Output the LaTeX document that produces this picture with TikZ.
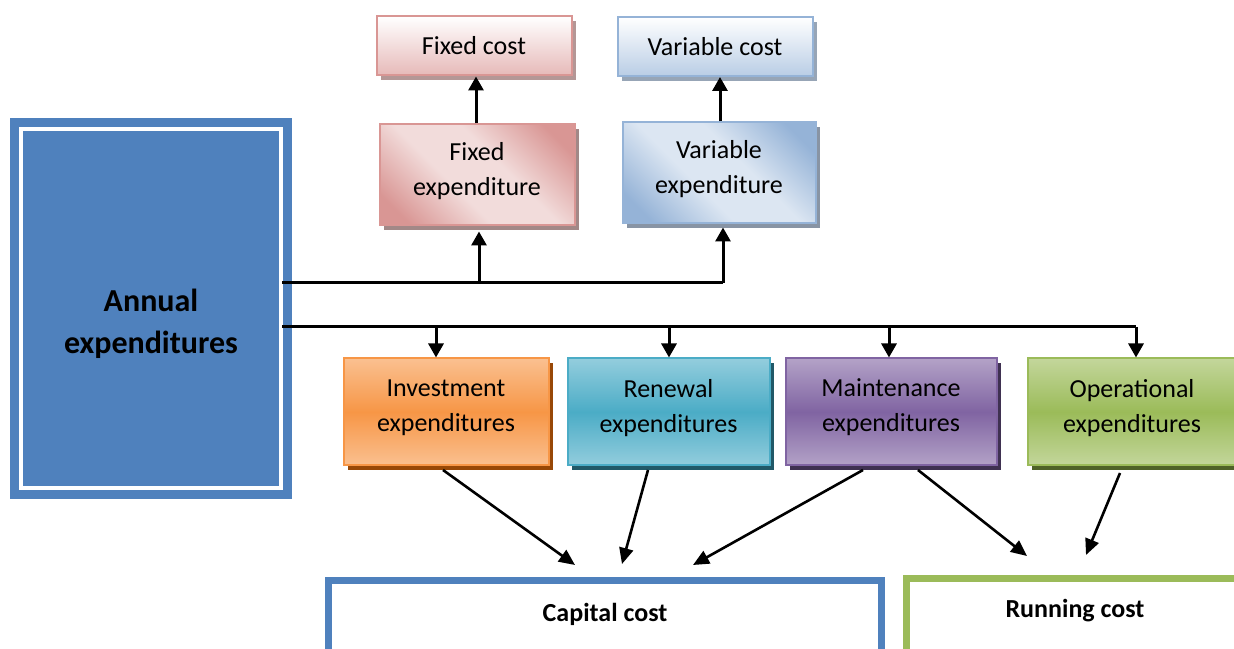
\documentclass[tikz,border=0pt]{standalone}
\usepackage{fontspec}
\setmainfont{Carlito}
\usetikzlibrary{arrows.meta,shadows,calc}
\definecolor{ablue}{HTML}{4F81BD}
\definecolor{pinkB}{HTML}{D99694}
\definecolor{pinkL}{HTML}{E6B9B8}
\definecolor{pinkXL}{HTML}{F2DCDB}
\definecolor{pinkS}{HTML}{B49796}
\definecolor{blueB}{HTML}{95B3D7}
\definecolor{blueL}{HTML}{B9CDE5}
\definecolor{blueXL}{HTML}{DCE6F2}
\definecolor{blueS}{HTML}{97A5B6}
\definecolor{orD}{HTML}{F79646}
\definecolor{orL}{HTML}{FAC090}
\definecolor{orS}{HTML}{984807}
\definecolor{teD}{HTML}{4BACC6}
\definecolor{teL}{HTML}{93CDDD}
\definecolor{teS}{HTML}{215968}
\definecolor{puD}{HTML}{8064A2}
\definecolor{puL}{HTML}{B3A2C7}
\definecolor{puS}{HTML}{3F3151}
\definecolor{grD}{HTML}{9BBB59}
\definecolor{grL}{HTML}{C3D69B}
\definecolor{grS}{HTML}{4F6228}
\pgfdeclareverticalshading{pinkdiag}{100bp}{color(0bp)=(pinkB); color(22bp)=(pinkB); color(42bp)=(pinkXL); color(58bp)=(pinkXL); color(78bp)=(pinkB); color(100bp)=(pinkB)}
\pgfdeclareverticalshading{bluediag}{100bp}{color(0bp)=(blueB); color(22bp)=(blueB); color(42bp)=(blueXL); color(58bp)=(blueXL); color(78bp)=(blueB); color(100bp)=(blueB)}
\begin{document}
\begin{tikzpicture}[x=1pt,y=1pt,
  box/.style={draw, line width=2pt, align=center, inner sep=0pt,
    font=\fontsize{26}{35}\selectfont},
  shad/.style={drop shadow={shadow xshift=4pt, shadow yshift=-5pt, fill=#1, opacity=1}},
  topbox/.style={box, draw=#1B, top color=white, bottom color=#1L},
  expbox/.style={box, draw=#1B, shading=#1diag, shading angle=-45, text depth=12pt},
  midbox/.style={box, draw=#1D, top color=#1L, bottom color=#1L, middle color=#1D,
    minimum height=107pt, shad=#1S, text depth=13pt},
  ln/.style={line width=3pt},
  arr/.style={line width=3pt, -{Triangle[length=14pt,width=15pt]}},
  darr/.style={line width=2.6pt, -{Triangle[length=16pt,width=14pt]}},
  costbox/.style={draw=#1, line width=7pt, minimum height=100pt},
  costtext/.style={font=\bfseries\fontsize{26}{30}\selectfont}
]
\useasboundingbox (0,0) rectangle (1234,648);

% Annual expenditures
\node[draw=ablue, fill=ablue, line width=9pt, double=white, double distance=4pt,
  minimum width=260pt, minimum height=359pt] (ann) at (151,339.5) {};
\node[align=center, font=\bfseries\fontsize{32}{42}\selectfont] (anntext) at (151,324) {Annual\\expenditures};

% top boxes
\node[topbox=pink, shad=pinkS, minimum width=195pt, minimum height=59pt] (fc) at (474,602) {Fixed cost};
\node[topbox=blue, shad=blueS, minimum width=195pt, minimum height=59pt] (vc) at (715,601.5) {Variable cost};
\node[expbox=pink, shad=pinkS!90!black, minimum width=195pt, minimum height=101pt] (fe) at (477,473) {Fixed\\expenditure};
\node[expbox=blue, shad=blueS!90!black, minimum width=193pt, minimum height=101pt] (ve) at (719,475) {Variable\\expenditure};

% middle boxes
\node[midbox=or, minimum width=205pt] (inv) at (446,236) {Investment\\expenditures};
\node[midbox=te, minimum width=202pt] (ren) at (668.5,236) {Renewal\\expenditures};
\node[midbox=pu, minimum width=211pt] (mai) at (891,236) {Maintenance\\expenditures};
\node[midbox=gr, minimum width=209pt] (ope) at (1132,236) {Operational\\expenditures};

% cost boxes
\node[costbox=ablue, minimum width=553pt] (cap) at (605,17.5) {};
\node[costtext] (captext) at (605,34) {Capital cost};
\node[costbox=grD, minimum width=340pt] (run) at (1076,19) {};
\node[costtext] (runtext) at (1075,37) {Running cost};

% connectors from annual
\coordinate (s1) at (282,365);
\coordinate (j1) at (479,365);
\coordinate (j2) at (723,365);
\coordinate (s2) at (282,321);
\coordinate (k1) at (436,321);
\coordinate (k2) at (669,321);
\coordinate (k3) at (889,321);
\coordinate (k4) at (1136,321);
\coordinate (u1) at (476,0);
\coordinate (u2) at (720,0);

\draw[ln] (s1) -- (j2);
\draw[arr] (j1) -- ($(j1 |- fe.south)+(0,-5)$);
\draw[arr] (j2) -- ($(j2 |- ve.south)+(0,-3)$);
\draw[arr] (u1 |- fe.north) -- (u1 |- fc.south);
\draw[arr] (u2 |- ve.north) -- (u2 |- vc.south);

\draw[ln] (s2) -- (k4);
\draw[arr] (k1) -- (k1 |- inv.north);
\draw[arr] (k2) -- (k2 |- ren.north);
\draw[arr] (k3) -- (k3 |- mai.north);
\draw[arr] (k4) -- (k4 |- ope.north);

% diagonal connectors
\coordinate (c1) at (575,83);
\coordinate (c2) at (622,84);
\coordinate (c3) at (693,83);
\coordinate (r1) at (1027,92);
\coordinate (r2) at (1086,93);
\coordinate (b1) at (443,178);
\coordinate (b2) at (648,178);
\coordinate (b3) at (863,178);
\coordinate (b4) at (918,178);
\coordinate (b5) at (1120,175);
\draw[darr] (b1) -- (c1);
\draw[darr] (b2) -- (c2);
\draw[darr] (b3) -- (c3);
\draw[darr] (b4) -- (r1);
\draw[darr] (b5) -- (r2);
\end{tikzpicture}
\end{document}
